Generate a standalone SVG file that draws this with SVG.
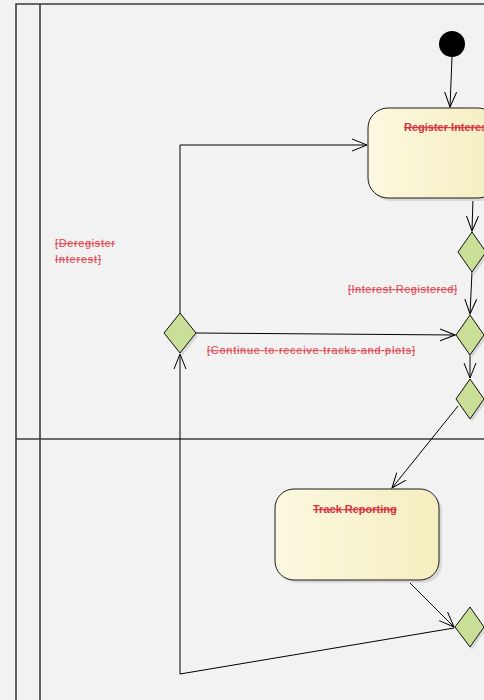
<svg xmlns="http://www.w3.org/2000/svg" width="484" height="700" viewBox="0 0 484 700">
<defs>
<linearGradient id="boxg" x1="0" y1="0" x2="1" y2="0">
<stop offset="0" stop-color="#fcf8e0"/>
<stop offset="1" stop-color="#f5eec0"/>
</linearGradient>
<marker id="arr" viewBox="0 0 16 14" refX="15" refY="7" markerWidth="16" markerHeight="14" markerUnits="userSpaceOnUse" orient="auto">
<path d="M0,1 L15,7 L0,13" fill="none" stroke="#000" stroke-width="1"/>
</marker>
</defs>
<style>
.lane{fill:none;stroke:#3c3c3c;stroke-width:1.6}
.box{fill:url(#boxg);stroke:#1a1a1a;stroke-width:1}
.shadow{fill:#d9d9d9}
.dia{fill:#c9df98;stroke:#111;stroke-width:1}
.con{fill:none;stroke:#000;stroke-width:1}
.title{font-family:"Liberation Sans",Arial,sans-serif;font-size:11px;font-weight:bold;fill:#d9323f;text-decoration:line-through}
.lbl{font-family:"Liberation Sans",Arial,sans-serif;font-size:11px;fill:#e0434f;text-decoration:line-through}
</style>
<rect x="0" y="0" width="484" height="700" fill="#f2f2f2"/>
<g id="swimlanes">
<path class="lane" d="M16,700 V4 H484"/>
<line class="lane" x1="40" y1="4" x2="40" y2="700" stroke="#111"/>
<line class="lane" x1="16" y1="439" x2="484" y2="439"/>
</g>
<g id="connectors">
<line class="con" x1="452" y1="57" x2="450" y2="107" marker-end="url(#arr)"/>
<polyline class="con" points="180,313 180,145 367,145" marker-end="url(#arr)"/>
<line class="con" x1="473" y1="198" x2="472" y2="231" marker-end="url(#arr)"/>
<line class="con" x1="472" y1="272" x2="470" y2="314" marker-end="url(#arr)"/>
<line class="con" x1="196" y1="333" x2="455" y2="335" marker-end="url(#arr)"/>
<line class="con" x1="470" y1="355" x2="470" y2="378" marker-end="url(#arr)"/>
<line class="con" x1="458" y1="406" x2="392" y2="488" marker-end="url(#arr)"/>
<line class="con" x1="408" y1="581" x2="454" y2="627" marker-end="url(#arr)"/>
<polyline class="con" points="454,628 180,674 180,354" marker-end="url(#arr)"/>
</g>
<g id="initial">
<circle cx="452" cy="44" r="13" fill="#000"/>
</g>
<g id="registerInterest">
<rect class="shadow" x="371" y="111" width="130" height="90" rx="20"/>
<rect class="box" x="368" y="108" width="130" height="90" rx="20"/>
<text class="title" x="404" y="131">Register Interest</text>
</g>
<g id="decision1">
<polygon class="shadow" points="474,235 488,255 474,275 460,255"/>
<polygon class="dia" points="472,232 486,252 472,272 458,252"/>
</g>
<g id="decision2">
<polygon class="shadow" points="472,318 486,338 472,358 458,338"/>
<polygon class="dia" points="470,315 484,335 470,355 456,335"/>
</g>
<g id="decision3">
<polygon class="shadow" points="472,382 486,402 472,422 458,402"/>
<polygon class="dia" points="470,379 484,399 470,419 456,399"/>
</g>
<g id="decisionLeft">
<polygon class="shadow" points="182,316 198,336 182,356 166,336"/>
<polygon class="dia" points="180,313 196,333 180,353 164,333"/>
</g>
<g id="trackReporting">
<rect class="shadow" x="278" y="492" width="164" height="91" rx="19"/>
<rect class="box" x="275" y="489" width="164" height="91" rx="19"/>
<text class="title" x="313" y="513">Track Reporting</text>
</g>
<g id="decision4">
<polygon class="shadow" points="472,610 486,630 472,650 458,630"/>
<polygon class="dia" points="470,607 484,627 470,647 455,627"/>
</g>
<g id="labels">
<text class="lbl" x="55" y="247" textLength="60" lengthAdjust="spacing">[Deregister</text>
<text class="lbl" x="55" y="263" textLength="46" lengthAdjust="spacing">Interest]</text>
<text class="lbl" x="348" y="293" textLength="109" lengthAdjust="spacing">[Interest Registered]</text>
<text class="lbl" x="207" y="354" textLength="208" lengthAdjust="spacing">[Continue to receive tracks and plots]</text>
</g>
</svg>
